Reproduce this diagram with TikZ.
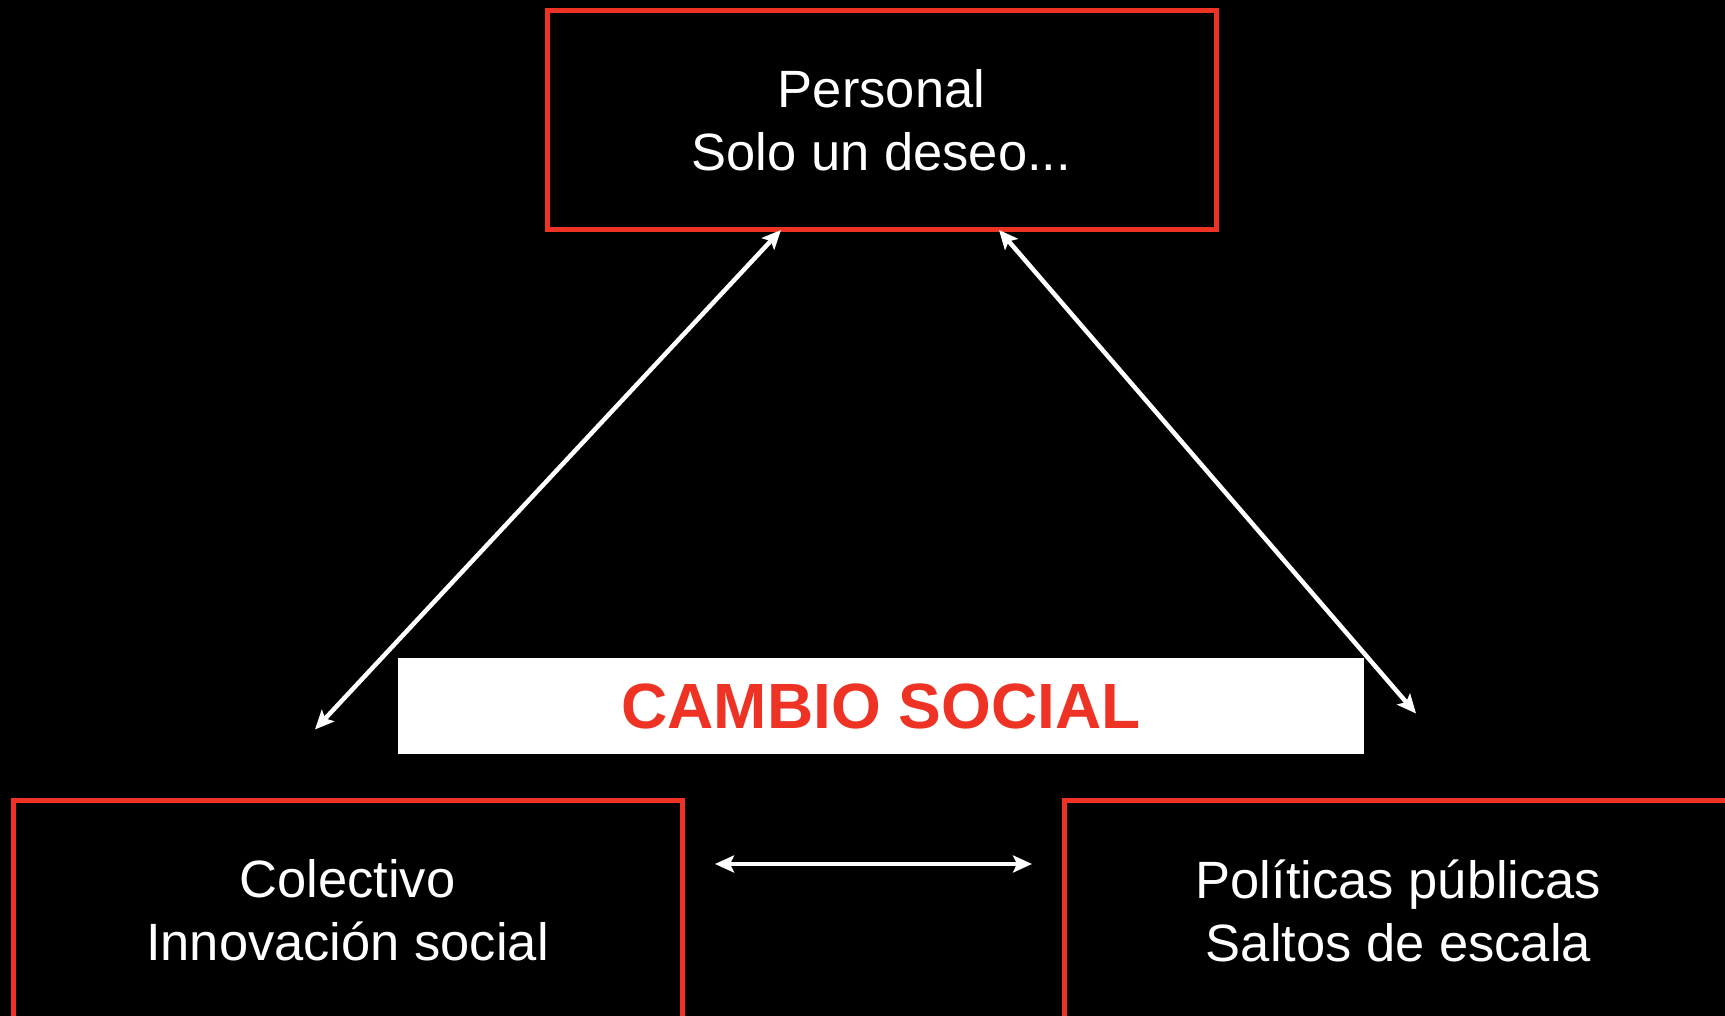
\documentclass[tikz,border=0pt]{standalone}
\usepackage{fontspec}
\setmainfont{Liberation Sans}
\usepackage{tikz}
\usetikzlibrary{positioning, calc, arrows.meta}
\definecolor{boxred}{RGB}{238,50,36}

\begin{document}
\begin{tikzpicture}[x=1pt, y=1pt, level/.style={rectangle, draw=boxred, line width=5pt, outer sep=0pt, inner sep=0pt, minimum width=669pt, minimum height=219pt, text=white, align=center, font=\fontsize{52.5}{63}\selectfont}, link/.style={white, line width=4.5pt, {Stealth[length=19pt,width=17pt,inset=4pt]}-{Stealth[length=19pt,width=17pt,inset=4pt]}}]

\fill[black] (0,0) rectangle (1725,1016);
\clip (0,0) rectangle (1725,1016);

% Levels

\node [level] (personal) at (881.5,895.5) {Personal\\Solo un deseo...};
\node [level] (colectivo) at (347.5,105.5) {Colectivo\\Innovación social};
\node [level, right=382pt of colectivo] (politicas) {Políticas públicas\\Saltos de escala};

\node [fill=white, minimum width=966pt, minimum height=96pt, inner sep=0pt, text=boxred, font=\fontsize{64}{70}\selectfont\bfseries] (cambio) at (881,310) {CAMBIO SOCIAL};

% Links

\coordinate (colectivotip) at ($(colectivo.north) + (-32.5,71.5)$);
\coordinate (politicastip) at ($(politicas.north) + (17.5,87.5)$);

\draw[link] ($(personal.south) + (-100.5,0)$) -- (colectivotip);
\draw[link] ($(personal.south) + (117.5,0)$) -- (politicastip);
\draw[link] ($(colectivo.east) + (33,46.5)$) -- ($(politicas.west) + (-32,46.5)$);

\end{tikzpicture}
\end{document}
